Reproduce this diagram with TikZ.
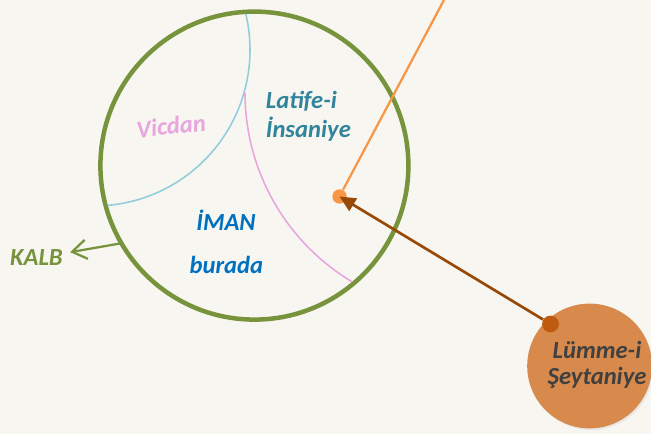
\documentclass[tikz,border=0pt]{standalone}
\usepackage{fontspec}
\setmainfont{Carlito}
\usetikzlibrary{arrows.meta,shadows}
\definecolor{zemin}{RGB}{248,246,241}
\definecolor{kalbgreen}{RGB}{119,147,60}
\definecolor{vicdanblue}{RGB}{146,205,221}
\definecolor{vicdanpink}{RGB}{232,165,222}
\definecolor{latifeteal}{RGB}{49,132,155}
\definecolor{imanblue}{RGB}{0,112,192}
\definecolor{sparkorange}{RGB}{247,150,70}
\definecolor{arrowbrown}{RGB}{152,72,7}
\definecolor{dotbrown}{RGB}{192,90,16}
\definecolor{lummefill}{RGB}{216,138,76}
\definecolor{lummetext}{RGB}{64,64,64}
\tikzset{
  yazi/.style={font=\fontsize{17.5}{20.6}\selectfont\bfseries\itshape},
  golge/.style={drop shadow={shadow xshift=1.2pt, shadow yshift=-1.2pt, opacity=.12}},
  nokta/.style={circle, inner sep=0pt}
}
\begin{document}
\begin{tikzpicture}

\fill[zemin] (0,0) rectangle (16.275,10.85);
\useasboundingbox (0,0) rectangle (16.275,10.85);

\node[circle, draw=kalbgreen, line width=3.2pt, fill=zemin, minimum size=7.7cm, golge] (kalb circle) at (6.36,6.71) {};
\node[circle, fill=lummefill, minimum size=3.12cm, golge] (lumme) at (14.74,1.7) {};

\begin{scope}
\clip (6.36,6.71) circle (3.8);
\draw[vicdanblue, line width=1.1pt] (2.35,9.6) ++(14:3.9) arc (14:-95:3.9);
\draw[vicdanpink, line width=1.1pt] (11.625,8.525) ++(180:5.5) arc (180:245:5.5);
\end{scope}

\node[yazi, vicdanpink, rotate=6] (vicdan) at (4.275,7.7) {Vicdan};
\node[yazi, latifeteal, align=left] (latife) at (7.71,7.94) {Latife-i\\İnsaniye};
\node[yazi, imanblue] (iman) at (5.65,5.35) {İMAN};
\node[yazi, imanblue] (burada) at (5.66,4.225) {burada};
\node[yazi, kalbgreen, inner sep=5pt] (kalb) at (0.9125,4.4) {KALB};
\node[yazi, lummetext, align=center, font=\fontsize{17.5}{18.8}\selectfont\bfseries\itshape] (lumme text) at (14.925,1.725) {Lümme-i\\Şeytaniye};

\coordinate (kalb tick) at (3.075,4.775);
\draw[kalbgreen, line width=1.6pt, -{Straight Barb[length=0.36cm, width=0.48cm]}] (kalb tick) -- (kalb);

\coordinate (spark top) at (11.1,10.85);
\node[nokta, fill=sparkorange, minimum size=0.36cm] (isik) at (8.4875,5.9375) {};
\draw[sparkorange, line width=1.6pt] (isik) -- (spark top);

\node[nokta, fill=dotbrown, minimum size=0.42cm] (lumme dot) at (13.7625,2.75) {};
\draw[arrowbrown, line width=1.9pt, -{Triangle[length=0.4cm, width=0.36cm]}] (lumme dot) -- (isik.center);

\end{tikzpicture}
\end{document}
